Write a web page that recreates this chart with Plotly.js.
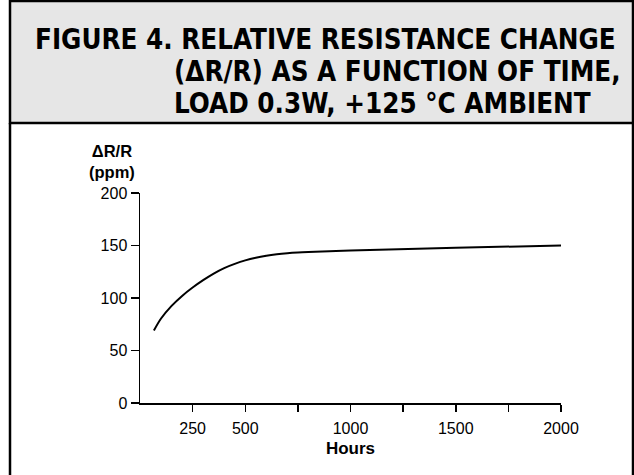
<!DOCTYPE html>
<html>
<head>
<meta charset="utf-8">
<script src="https://cdn.plot.ly/plotly-3.0.1.min.js"></script>
<style>html,body{margin:0;padding:0;background:#fff;}#chart{width:634px;height:475px;}</style>
</head>
<body>
<div id="chart"></div>
<script>
// Data
const hours = [66, 100, 150, 200, 250, 300, 350, 400, 450, 500, 550, 600, 650, 700, 750, 800, 900, 1000, 1500, 2000];
const deltaRppm = [69, 80.5, 92.5, 102, 110, 117, 123.3, 128.5, 132.5, 135.8, 138.3, 140.2, 141.6, 142.6, 143.3, 143.8, 144.6, 145.3, 147.8, 150];
const xTickVals = [250, 500, 750, 1000, 1250, 1500, 1750, 2000];
const xTickText = ['250', '500', '', '1000', '', '1500', '', '2000'];
const yTickVals = [0, 50, 100, 150, 200];
const yTickText = ['0', '50', '100', '150', '200'];
const titleLines = [
  'FIGURE 4. RELATIVE RESISTANCE CHANGE',
  '(\u0394R/R) AS A FUNCTION OF TIME,',
  'LOAD 0.3W, +125 \u00B0C AMBIENT'
];
const yLabelLines = ['\u0394R/R', '(ppm)'];
const xLabel = 'Hours';

// Layout geometry (pixels)
const W = 634, H = 475;
const M = {l: 140, r: 73, t: 193, b: 72};
const pw = W - M.l - M.r, ph = H - M.t - M.b;
const px = x => (x - M.l) / pw;
const py = y => (H - M.b - y) / ph;

const headFont = {family: '"Liberation Sans Narrow", "DejaVu Sans Condensed", "Liberation Sans", Arial, sans-serif', size: 27.5, color: '#000', weight: 'bold'};
const baseFont = {family: '"Liberation Sans", Arial, Helvetica, sans-serif', size: 16, color: '#000'};
const labelFont = Object.assign({}, baseFont, {size: 17});

const trace = {
  x: hours, y: deltaRppm, type: 'scatter', mode: 'lines',
  line: {color: '#000', width: 2, shape: 'spline', smoothing: 1},
  hoverinfo: 'skip', showlegend: false
};

const annotations = [
  {text: '<b>' + titleLines[0] + '</b>', x: px(33), y: py(39), xanchor: 'left'},
  {text: '<b>' + titleLines[1] + '</b>', x: px(172), y: py(71), xanchor: 'left'},
  {text: '<b>' + titleLines[2] + '</b>', x: px(172), y: py(103), xanchor: 'left'}
].map(a => Object.assign(a, {xref: 'paper', yref: 'paper', yanchor: 'middle', showarrow: false, font: headFont}));

annotations.push({
  text: '<b>' + yLabelLines.join('<br>') + '</b>', x: px(112), y: py(161), xref: 'paper', yref: 'paper',
  xanchor: 'center', yanchor: 'middle', align: 'center', showarrow: false,
  font: Object.assign({}, baseFont, {size: 16.5})
});

const shapes = [
  {type: 'rect', xref: 'paper', yref: 'paper', x0: px(10), x1: px(633), y0: py(1), y1: py(123),
   fillcolor: '#e6e6e6', line: {color: '#000', width: 2.5}, layer: 'below'},
  {type: 'line', xref: 'paper', yref: 'paper', x0: px(10), x1: px(10), y0: py(123), y1: py(476),
   line: {color: '#000', width: 2.5}},
  {type: 'line', xref: 'paper', yref: 'paper', x0: px(633), x1: px(633), y0: py(123), y1: py(476),
   line: {color: '#000', width: 2.5}}
];

const layout = {
  width: W, height: H,
  margin: M,
  paper_bgcolor: '#fff', plot_bgcolor: '#fff',
  font: baseFont,
  showlegend: false,
  xaxis: {
    range: [0, 2000], showgrid: false, zeroline: false,
    showline: true, linecolor: '#000', linewidth: 1.5,
    ticks: 'outside', ticklen: 7, tickwidth: 1.5, tickcolor: '#000',
    tickvals: xTickVals, ticktext: xTickText,
    tickfont: baseFont, ticklabelstandoff: 3,
    title: {text: '<b>' + xLabel + '</b>', font: labelFont, standoff: 6},
    fixedrange: true
  },
  yaxis: {
    range: [0, 200], showgrid: false, zeroline: false,
    showline: true, linecolor: '#000', linewidth: 1.5,
    ticks: 'outside', ticklen: 8, tickwidth: 1.5, tickcolor: '#000',
    tickvals: yTickVals, ticktext: yTickText,
    tickfont: baseFont,
    fixedrange: true
  },
  annotations: annotations,
  shapes: shapes
};

Plotly.newPlot('chart', [trace], layout, {displayModeBar: false, staticPlot: true});
</script>
</body>
</html>
